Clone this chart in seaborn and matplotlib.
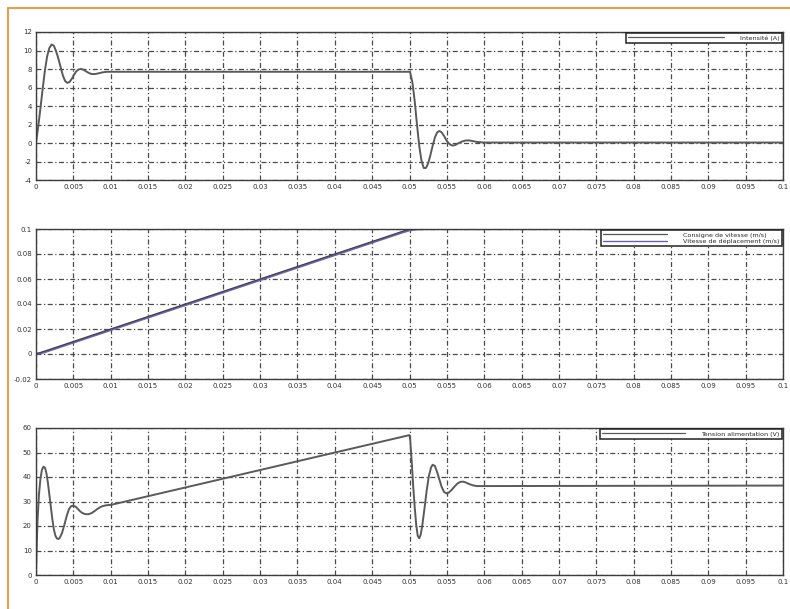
import numpy as np
import pandas as pd
import matplotlib
matplotlib.use("Agg")
import matplotlib.pyplot as plt
import seaborn as sns
from matplotlib.lines import Line2D
from matplotlib.ticker import AutoMinorLocator

# ---------------- data ----------------
t_int = [0, 0.0003, 0.0006, 0.0009, 0.0012, 0.0015, 0.0018, 0.0021, 0.0024, 0.0027,
         0.003, 0.0033, 0.0036, 0.0039, 0.0042, 0.0045, 0.0048, 0.0051, 0.0054, 0.0057,
         0.006, 0.0063, 0.0066, 0.0069, 0.0072, 0.0075, 0.0078, 0.0081, 0.0085, 0.009,
         0.0095, 0.01, 0.05, 0.0501, 0.0504, 0.0507, 0.051, 0.0513, 0.0516, 0.0519,
         0.0522, 0.0525, 0.0528, 0.0531, 0.0534, 0.0537, 0.054, 0.0543, 0.0546, 0.0549,
         0.0552, 0.0555, 0.0558, 0.0561, 0.0565, 0.057, 0.0575, 0.058, 0.0585, 0.059,
         0.06, 0.1]
intensite = [0, 1.8, 3.8, 5.9, 7.9, 9.4, 10.3, 10.65, 10.5, 9.9,
             9.1, 8.2, 7.3, 6.7, 6.5, 6.6, 6.95, 7.4, 7.75, 7.95,
             8.0, 7.95, 7.8, 7.65, 7.52, 7.46, 7.45, 7.48, 7.56, 7.65,
             7.7, 7.7, 7.7, 7.6, 6.5, 4.5, 2.0, -0.3, -1.9, -2.7,
             -2.7, -2.2, -1.3, -0.3, 0.6, 1.15, 1.3, 1.15, 0.8, 0.35,
             0.0, -0.2, -0.28, -0.22, -0.05, 0.15, 0.27, 0.28, 0.2, 0.12,
             0.05, 0.05]

t_cons = [0, 0.05, 0.1]
consigne = [0, 0.1, 0.1]

t_vit = [0, 0.001, 0.002, 0.049, 0.05, 0.051, 0.052, 0.1]
vitesse = [0, 0.0012, 0.0032, 0.0972, 0.0990, 0.0998, 0.1, 0.1]

t_ten = [0, 0.0001, 0.0002, 0.0004, 0.0006, 0.0008, 0.001, 0.0012, 0.0014, 0.0016,
         0.0018, 0.002, 0.0022, 0.0024, 0.0026, 0.0028, 0.003, 0.0032, 0.0035, 0.0038,
         0.0041, 0.0044, 0.0047, 0.005, 0.0053, 0.0056, 0.0059, 0.0062, 0.0066, 0.007,
         0.0074, 0.0078, 0.0082, 0.0086, 0.009, 0.0095, 0.01, 0.05, 0.0501, 0.0503,
         0.0505, 0.0507, 0.0509, 0.0511, 0.0513, 0.0515, 0.0517, 0.052, 0.0523, 0.0526,
         0.0529, 0.0531, 0.0534, 0.0537, 0.054, 0.0543, 0.0546, 0.0549, 0.0552, 0.0556,
         0.056, 0.0564, 0.0568, 0.0572, 0.0576, 0.058, 0.0585, 0.059, 0.06, 0.1]
tension = [0, 12, 22, 33, 39.5, 43, 44.2, 43.8, 41.5, 37.5,
           32.5, 27.5, 22.5, 18.5, 16, 14.9, 14.7, 15.3, 17.3, 20.5,
           24, 26.8, 28.1, 28.3, 27.9, 27, 26, 25.3, 24.85, 24.8,
           25.2, 26, 26.9, 27.7, 28.2, 28.5, 28.6, 57.1, 55, 46,
           36, 27.5, 20.5, 16, 15, 16.5, 20, 27, 34.5, 40.5,
           44, 45, 44.5, 42, 39, 36, 34, 33.3, 33.5, 34.6,
           36, 37.3, 38, 38.1, 37.7, 37.1, 36.6, 36.3, 36.3, 36.5]

x_ticks = [0, 0.005, 0.01, 0.015, 0.02, 0.025, 0.03, 0.035, 0.04, 0.045, 0.05,
           0.055, 0.06, 0.065, 0.07, 0.075, 0.08, 0.085, 0.09, 0.095, 0.1]
x_labels = ["0", "0.005", "0.01", "0.015", "0.02", "0.025", "0.03", "0.035", "0.04",
            "0.045", "0.05", "0.055", "0.06", "0.065", "0.07", "0.075", "0.08",
            "0.085", "0.09", "0.095", "0.1"]
y1_ticks = [-4, -2, 0, 2, 4, 6, 8, 10, 12]
y2_ticks = [-0.02, 0, 0.02, 0.04, 0.06, 0.08, 0.1]
y2_labels = ["-0.02", "0", "0.02", "0.04", "0.06", "0.08", "0.1"]
y3_ticks = [0, 10, 20, 30, 40, 50, 60]

# ---------------- figure ----------------
sns.set_style("white")
plt.rcParams["font.family"] = ["DejaVu Sans"]

W, H = 790, 609
fig = plt.figure(figsize=(W / 100, H / 100), dpi=100)
fig.patch.set_facecolor("white")

def rect(x0, y0, x1, y1):
    return [x0 / W, 1 - y1 / H, (x1 - x0) / W, (y1 - y0) / H]

RIGHT = 783
ax1 = fig.add_axes(rect(36, 32, RIGHT, 180))
ax2 = fig.add_axes(rect(36, 229, RIGHT, 379))
ax3 = fig.add_axes(rect(36, 428, RIGHT, 575))

frame_c = "#3c3c3c"
grid_c = "#4a4a4a"
line_c = "#5a5a5a"

def style(ax, yticks, ylabels, ylim, ymin_minor):
    ax.set_xlim(0, 0.1)
    ax.set_ylim(*ylim)
    ax.set_xticks(x_ticks)
    ax.set_xticklabels(x_labels)
    ax.set_yticks(yticks)
    ax.set_yticklabels(ylabels)
    ax.xaxis.set_minor_locator(AutoMinorLocator(5))
    ax.yaxis.set_minor_locator(AutoMinorLocator(ymin_minor))
    ax.tick_params(axis="both", which="major", labelsize=5, direction="in",
                   length=3, width=0.8, color=frame_c, pad=3, labelcolor="#333333")
    ax.tick_params(axis="both", which="minor", direction="in", length=1.6,
                   width=0.6, color=frame_c)
    ax.grid(True, which="major", color=grid_c, linewidth=0.9,
            linestyle=(0, (4, 2, 1, 2)))
    for s in ax.spines.values():
        s.set_color(frame_c)
        s.set_linewidth(1.0)
    ax.set_xlabel("")
    ax.set_ylabel("")
    ax.set_facecolor("white")

def legend(ax, handles, labels, handlelength):
    leg = ax.legend(handles, labels, loc="upper right", fontsize=4.6,
                    frameon=True, fancybox=False, borderpad=0.35,
                    handlelength=handlelength, handletextpad=2.5,
                    labelspacing=0.1, borderaxespad=0.15)
    leg.get_frame().set_edgecolor("#222222")
    leg.get_frame().set_linewidth(1.1)
    leg.get_frame().set_facecolor("white")
    leg.get_frame().set_alpha(1)

# panel 1
sns.lineplot(x=t_int, y=intensite, ax=ax1, color=line_c, linewidth=1.4,
             sort=False, estimator=None, legend=False)
style(ax1, y1_ticks, [str(v) for v in y1_ticks], (-4, 12), 2)
legend(ax1, [Line2D([], [], color=line_c, lw=0.9)], ["Intensité (A)"], 15)

# panel 2
sns.lineplot(x=t_vit, y=vitesse, ax=ax2, color="#6a62b0", linewidth=1.6,
             sort=False, estimator=None, legend=False)
sns.lineplot(x=t_cons, y=consigne, ax=ax2, color="#444444", linewidth=0.9,
             sort=False, estimator=None, legend=False)
style(ax2, y2_ticks, y2_labels, (-0.02, 0.1), 2)
legend(ax2, [Line2D([], [], color="#555555", lw=0.9),
             Line2D([], [], color="#6a62b0", lw=1.0)],
       ["Consigne de vitesse (m/s)", "Vitesse de déplacement (m/s)"], 10)

# panel 3
sns.lineplot(x=t_ten, y=tension, ax=ax3, color=line_c, linewidth=1.4,
             sort=False, estimator=None, legend=False)
style(ax3, y3_ticks, [str(v) for v in y3_ticks], (0, 60), 2)
legend(ax3, [Line2D([], [], color=line_c, lw=0.9)], ["Tension alimentation (V)"], 13)

# orange frame of the page
orange = "#f0913a"
fig.add_artist(Line2D([8 / W, 1.0], [1 - 8 / H, 1 - 8 / H], color=orange,
                      linewidth=1.3, transform=fig.transFigure))
fig.add_artist(Line2D([8 / W, 8 / W], [0, 1 - 8 / H], color=orange,
                      linewidth=1.3, transform=fig.transFigure))

fig.savefig("out.png", dpi=100, facecolor="white")
